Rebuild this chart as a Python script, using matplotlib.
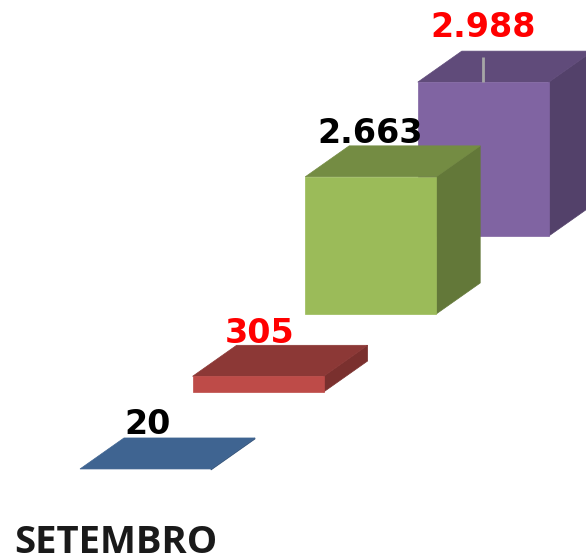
import matplotlib
matplotlib.use("Agg")
import matplotlib.pyplot as plt
from matplotlib.patches import Polygon

# Data
category = "SETEMBRO"
values = [20, 305, 2663, 2988]
value_labels = ["20", "305", "2.663", "2.988"]
label_colors = ["black", "#FF0000", "black", "#FF0000"]
front_colors = ["#4F81BD", "#BE4B48", "#9BBB59", "#8064A2"]
top_colors = ["#3F6491", "#8C3836", "#748C43", "#604B7A"]
side_colors = ["#35547A", "#7A302E", "#637839", "#53416A"]

# Layout (pixel space)
W, H = 586, 556
x0, dx = 80, 112.6
base0, dbase = 470, -78
bar_w = 131
depth_x, depth_y = 44, -31
scale = 0.0515
label_gap = [44, 43, 43, 55]
label_shift = [2, 2, -1, 0]

fig = plt.figure(figsize=(W / 100, H / 100), dpi=100, facecolor="white")
ax = fig.add_axes([0, 0, 1, 1])
ax.set_xlim(0, W)
ax.set_ylim(H, 0)
ax.axis("off")

for i in range(len(values) - 1, -1, -1):
    left = x0 + i * dx
    right = left + bar_w
    base = base0 + i * dbase
    top = base - values[i] * scale
    z = 2 + (len(values) - i)
    ax.add_patch(Polygon([(right, base), (right + depth_x, base + depth_y),
                          (right + depth_x, top + depth_y), (right, top)],
                         closed=True, fc=side_colors[i], ec=side_colors[i], lw=0.5, zorder=z))
    ax.add_patch(Polygon([(left, top), (right, top), (right + depth_x, top + depth_y),
                          (left + depth_x, top + depth_y)],
                         closed=True, fc=top_colors[i], ec=top_colors[i], lw=0.5, zorder=z))
    if values[i] * scale > 2:
        ax.add_patch(Polygon([(left, base), (right, base), (right, top), (left, top)],
                             closed=True, fc=front_colors[i], ec=front_colors[i], lw=0.5, zorder=z))
    ax.text(left + bar_w / 2 + label_shift[i], top - label_gap[i], value_labels[i], color=label_colors[i],
            ha="center", va="center", fontsize=24, fontweight="bold",
            family="DejaVu Sans", zorder=10)

# Leader line of the last label
lead_x = x0 + 3 * dx + bar_w / 2
lead_top = base0 + 3 * dbase - values[3] * scale
ax.plot([lead_x, lead_x], [lead_top - 25, lead_top], color="#A6A6A6", lw=2,
        solid_capstyle="butt", zorder=9)

ax.text(14, 553, category, color="#1A1A1A", ha="left", va="baseline",
        fontsize=27.5, fontweight="bold", family="Open Sans")

fig.savefig("out.png", dpi=100, facecolor="white")
